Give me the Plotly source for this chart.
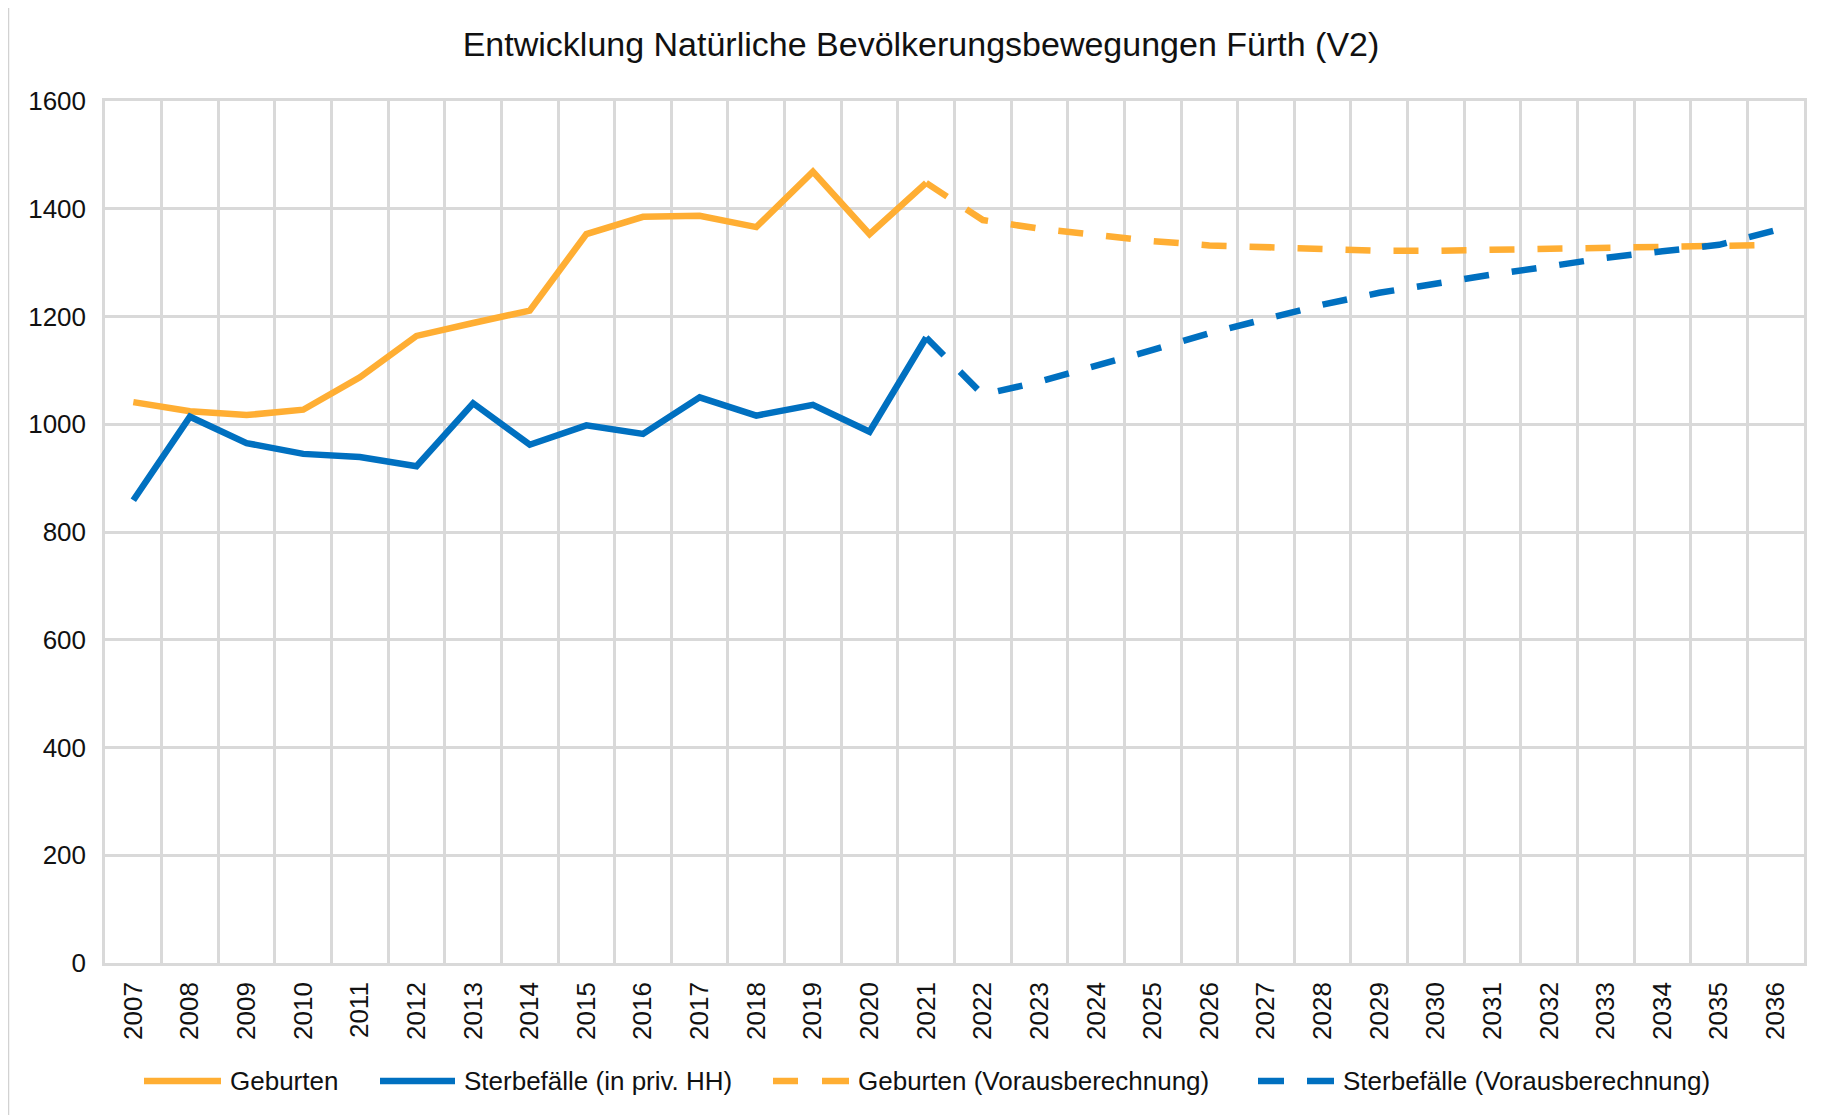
import plotly.graph_objects as go

years = [str(y) for y in range(2007, 2037)]
years_actual = [str(y) for y in range(2007, 2022)]
years_proj = [str(y) for y in range(2021, 2037)]

geburten = [1041, 1024, 1017, 1027, 1087, 1164, 1188, 1211, 1353, 1385, 1387, 1366, 1469, 1353, 1448]
sterbefaelle = [859, 1014, 965, 945, 939, 922, 1039, 962, 998, 982, 1050, 1016, 1036, 986, 1161]
geburten_proj = [1448, 1379, 1363, 1350, 1340, 1332, 1328, 1324, 1322, 1322, 1324, 1327, 1328, 1329, 1330, 1333]
sterbefaelle_proj = [1161, 1055, 1079, 1107, 1138, 1169, 1197, 1222, 1244, 1262, 1278, 1293, 1309, 1321, 1333, 1360]

names = ["Geburten", "Sterbefälle (in priv. HH)", "Geburten (Vorausberechnung)", "Sterbefälle (Vorausberechnung)"]

ORANGE = "#FFAE33"
BLUE = "#0070C0"
GRID = "#D9D9D9"
FONT = "Liberation Sans, Arial, sans-serif"
TXT = "#111111"
DASH = "25px,23px"
LW = 6.5

fig = go.Figure()
fig.add_trace(go.Scatter(x=years_actual, y=geburten, mode="lines", name=names[0],
                         line=dict(color=ORANGE, width=LW)))
fig.add_trace(go.Scatter(x=years_actual, y=sterbefaelle, mode="lines", name=names[1],
                         line=dict(color=BLUE, width=LW)))
fig.add_trace(go.Scatter(x=years_proj, y=geburten_proj, mode="lines", name=names[2],
                         line=dict(color=ORANGE, width=LW, dash=DASH)))
fig.add_trace(go.Scatter(x=years_proj, y=sterbefaelle_proj, mode="lines", name=names[3],
                         line=dict(color=BLUE, width=LW, dash=DASH)))

# page offset of the figure (body margin)
OFF = 8
W, H = 1818, 1107
L, R, T, B = 97, 22, 93, 152
pw = W - L - R
ph = H - T - B


def px_x(p):
    """page pixel x -> paper x"""
    return (p - OFF - L) / pw


def px_y(p):
    """page pixel y -> paper y"""
    return (H - B - (p - OFF)) / ph


# custom legend (symbol segments in page px, text start in page px)
LEG_Y = 1081
legend_items = [
    (ORANGE, [(144, 221)], 228, names[0]),
    (BLUE, [(380, 455)], 462, names[1]),
    (ORANGE, [(773, 798), (822, 849)], 856, names[2]),
    (BLUE, [(1258, 1284), (1307, 1334)], 1341, names[3]),
]

shapes = [dict(type="line", xref="paper", yref="paper",
               x0=px_x(OFF + 0.5), x1=px_x(OFF + 0.5), y0=px_y(OFF), y1=px_y(H + OFF),
               line=dict(color="#D2D2D2", width=1.5))]
annotations = []
for color, segs, tx, label in legend_items:
    for a, b in segs:
        shapes.append(dict(type="line", xref="paper", yref="paper",
                           x0=px_x(a), x1=px_x(b), y0=px_y(LEG_Y), y1=px_y(LEG_Y),
                           line=dict(color=color, width=LW)))
    annotations.append(dict(text=label, xref="paper", yref="paper",
                            x=px_x(tx), y=px_y(LEG_Y), xanchor="left", yanchor="middle",
                            showarrow=False,
                            font=dict(family=FONT, size=26, color=TXT)))

fig.update_layout(
    width=W, height=H,
    margin=dict(l=L, r=R, t=T, b=B),
    paper_bgcolor="white",
    plot_bgcolor="rgba(0,0,0,0)",
    font=dict(family=FONT, size=26, color=TXT),
    title=dict(text="Entwicklung Natürliche Bevölkerungsbewegungen Fürth (V2)",
               x=(921 - OFF) / W, xref="container", xanchor="center",
               y=1 - (44 - OFF) / H, yref="container", yanchor="middle",
               font=dict(family=FONT, size=34, color=TXT)),
    showlegend=False,
    xaxis=dict(type="category", categoryorder="array", categoryarray=years,
               range=[-0.5, 29.5], tickson="boundaries", tickangle=-90,
               showgrid=True, gridcolor=GRID, gridwidth=2.5,
               showline=True, linecolor=GRID, linewidth=2.5, mirror=True,
               ticks="", ticklabelstandoff=6,
               tickfont=dict(family=FONT, size=26, color=TXT)),
    yaxis=dict(range=[0, 1600], dtick=200, tick0=0,
               showgrid=True, gridcolor=GRID, gridwidth=2.5,
               zeroline=False,
               showline=True, linecolor=GRID, linewidth=2.5, mirror=True,
               ticks="", ticklabelstandoff=11,
               tickfont=dict(family=FONT, size=26, color=TXT)),
    shapes=shapes,
    annotations=annotations,
)

fig.write_html("out.html")
